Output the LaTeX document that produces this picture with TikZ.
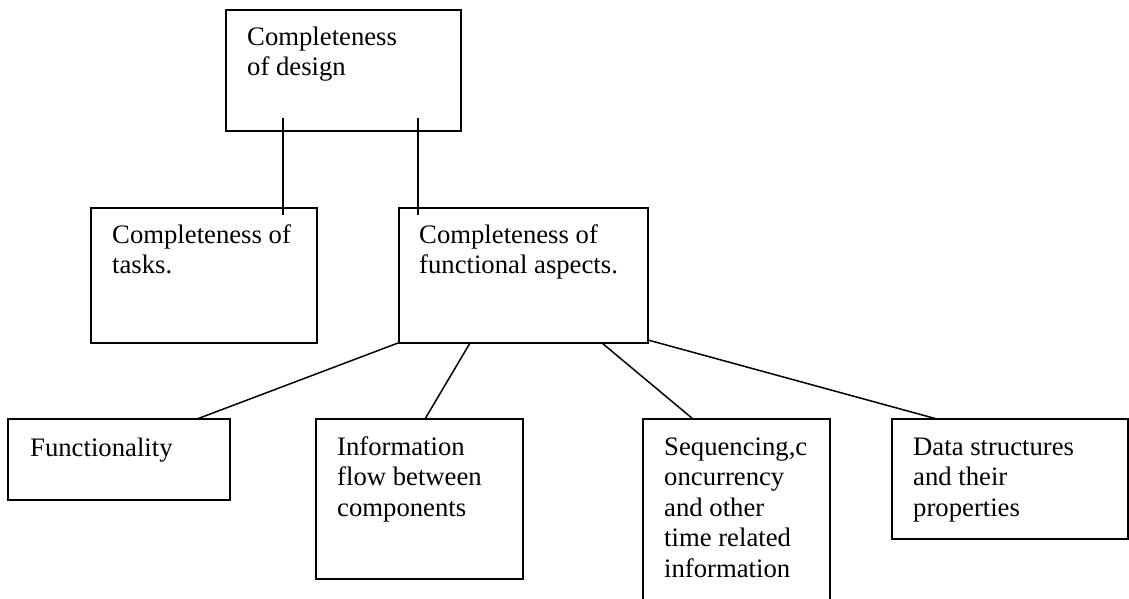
\documentclass[tikz,border=0pt]{standalone}
\usepackage{fontspec}
\setmainfont{Liberation Serif}
\newcommand\stk[1]{\vtop{\baselineskip=30.5pt\halign{##\hfil\cr #1\crcr}}}
\begin{document}
\begin{tikzpicture}[x=1pt,y=-1pt,
  boxst/.style={draw=black,line width=1.6pt,rectangle,inner sep=0pt,outer sep=0pt,anchor=north west},
  txt/.style={anchor=base west,inner sep=0pt,font=\fontsize{26.7}{30.5}\selectfont},
  link/.style={draw=black,line width=1.5pt}]
\useasboundingbox (0,0) rectangle (1129,598);
\clip (0,0) rectangle (1129,598);
\fill[white] (0,0) rectangle (1129,598);

% boxes
\node[boxst,minimum width=235pt,minimum height=121pt] (top) at (226,10) {};
\node[boxst,minimum width=226pt,minimum height=135pt] (tasks) at (91,208) {};
\node[boxst,minimum width=249pt,minimum height=135pt] (func) at (399,208) {};
\node[boxst,minimum width=222pt,minimum height=81pt] (fty) at (8,419) {};
\node[boxst,minimum width=207pt,minimum height=160pt] (info) at (316,419) {};
\node[boxst,minimum width=187pt,minimum height=195pt] (seq) at (643,419) {};
\node[boxst,minimum width=236pt,minimum height=120pt] (data) at (892,419) {};

% texts
\node[txt] (top-t) at (247,45) {\stk{Completeness\cr of design}};
\node[txt] (tasks-t) at (112,243) {\stk{Completeness of\cr tasks.}};
\node[txt] (func-t) at (419,243) {\stk{Completeness of\cr functional aspects.}};
\node[txt] (fty-t) at (30,456) {Functionality};
\node[txt] (info-t) at (337,455) {\stk{Information\cr flow between\cr components}};
\node[txt] (seq-t) at (664,455) {\stk{Sequencing,c\cr oncurrency\cr and other\cr time related\cr information}};
\node[txt] (data-t) at (913,455) {\stk{Data structures\cr and their\cr properties}};

% connector end points
\coordinate (a1) at (283,118); \coordinate (b1) at (283,215);
\coordinate (a2) at (418,118); \coordinate (b2) at (418,215);
\coordinate (a3) at (398,343); \coordinate (b3) at (197,419);
\coordinate (a4) at (470,343); \coordinate (b4) at (425,419);
\coordinate (a5) at (602,343); \coordinate (b5) at (693,419);
\coordinate (a6) at (648,340); \coordinate (b6) at (937,419);

% connectors
\draw[link] (a1) -- (b1);
\draw[link] (a2) -- (b2);
\draw[link] (a3) -- (b3);
\draw[link] (a4) -- (b4);
\draw[link] (a5) -- (b5);
\draw[link] (a6) -- (b6);
\end{tikzpicture}
\end{document}
